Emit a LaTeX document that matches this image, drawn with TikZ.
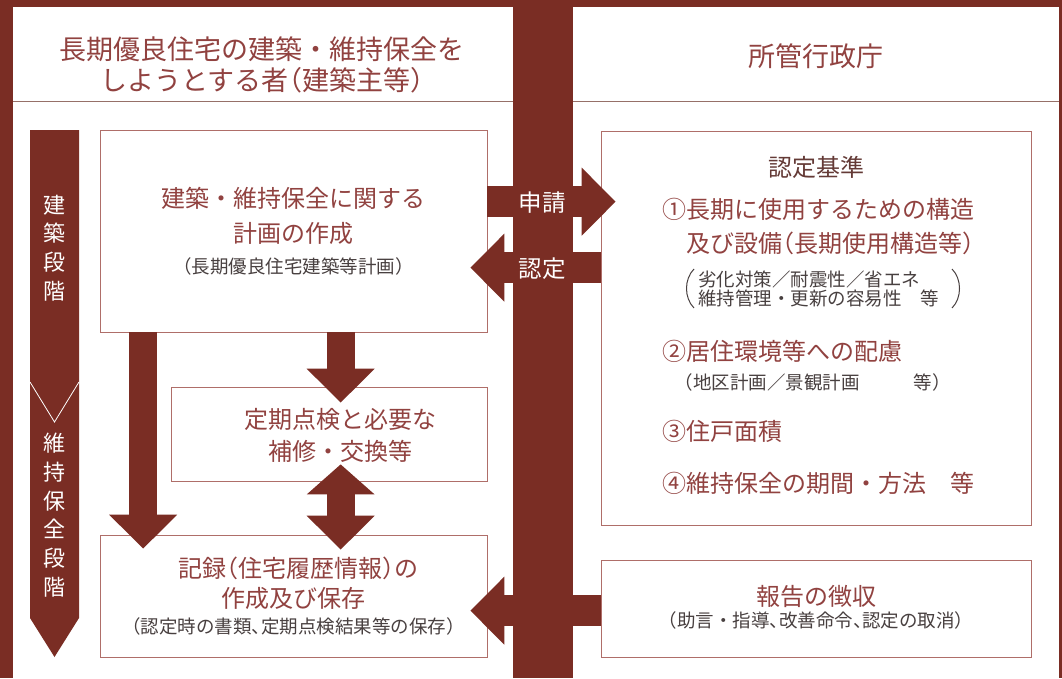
\documentclass[tikz,border=0pt]{standalone}
\usepackage{fontspec}
\setmainfont{Noto Sans CJK JP}
\usetikzlibrary{arrows.meta,calc}
\definecolor{brn}{RGB}{122,45,36}
\definecolor{ttl}{RGB}{145,66,64}
\definecolor{subc}{RGB}{72,64,64}
\definecolor{hdc}{RGB}{100,58,54}
\definecolor{bdr}{RGB}{175,110,105}
\definecolor{sepc}{RGB}{150,112,104}
\newcommand{\LP}{\kern-.5em（}
\newcommand{\RP}{）\kern-.5em}
\newcommand{\CM}{、\kern-.5em}
\tikzset{
  box/.style={draw=bdr, line width=0.7pt, fill=white, inner sep=0pt},
  ttxt/.style={inner sep=0pt, text=ttl, font=\fontsize{24}{28}\selectfont},
  htxt/.style={inner sep=0pt, text=ttl, font=\fontsize{27}{32}\selectfont},
  stxt/.style={inner sep=0pt, text=subc, font=\fontsize{18.5}{22}\selectfont},
  wtxt/.style={inner sep=0pt, text=white, font=\fontsize{23.5}{23.5}\selectfont},
  stagetxt/.style={inner sep=0pt, text=white, align=center, font=\fontsize{22}{28.7}\selectfont},
  harrow/.style={draw=brn, line width=31pt, -{Triangle[length=34pt,width=66pt]}},
  varrow/.style={draw=brn, line width=28pt, -{Triangle[length=34pt,width=66pt]}},
  sepline/.style={draw=sepc, line width=0.8pt},
  bigparen/.style={draw=subc, line width=1pt}
}
\begin{document}
\begin{tikzpicture}[x=1pt,y=-1pt]
\useasboundingbox (0,0) rectangle (1062,678);
% background and panels
\fill[brn] (0,0) rectangle (1062,678);
\fill[white] (13,7) rectangle (513,678);
\fill[white] (573,7) rectangle (1059,678);
\draw[sepline] (13,101) -- (513,101);
\draw[sepline] (573,101) -- (1059,101);

% headers
\node[htxt] (hl1) at (262,49) {長期優良住宅の建築・維持保全を};
\node[htxt] (hl2) at (262,80) {しようとする者\LP 建築主等\RP};
\node[htxt] (hr) at (816,56) {所管行政庁};

% stage arrow
\fill[brn] (30,130) -- (79,130) -- (79,618) -- (54.5,657) -- (30,618) -- cycle;
\draw[white, line width=0.8pt] (30,382) -- (54.5,422) -- (79,382);
\node[stagetxt] (st1) at (54.5,248) {建\\築\\段\\階};
\node[stagetxt] (st2) at (54.5,515) {維\\持\\保\\全\\段\\階};

% boxes
\node[box, minimum width=387pt, minimum height=202pt] (plan) at (293.5,231) {};
\node[box, minimum width=316pt, minimum height=94pt] (insp) at (329,434) {};
\node[box, minimum width=387pt, minimum height=122pt] (rec) at (293.5,596) {};
\node[box, minimum width=430pt, minimum height=394pt] (crit) at (816,328) {};
\node[box, minimum width=430pt, minimum height=97pt] (rep) at (816,608.5) {};

% arrows
\draw[harrow] ($(plan.north east)+(0,72)$) -- ($(crit.north west)+(15,71)$);
\draw[harrow] ($(crit.north west)+(0,137)$) -- ($(plan.north east)+(-17,138)$);
\draw[harrow] ($(rep.north west)+(0,51)$) -- ($(rec.north east)+(-17,76)$);
\draw[varrow] ($(plan.south west)+(43.5,0)$) -- ($(rec.north west)+(43.5,14)$);
\draw[varrow] ($(plan.south west)+(241,0)$) -- ($(insp.north west)+(170,16)$);
\draw[draw=brn, line width=28pt, {Triangle[length=30pt,width=66pt]}-{Triangle[length=34pt,width=66pt]}]
  ($(insp.south west)+(170,-17)$) -- ($(rec.north west)+(241,15)$);

\node[wtxt] (shinsei) at (542,203) {申請};
\node[wtxt] (nintei) at (542,269) {認定};

% box texts
\node[ttxt] (p1) at (293.5,198) {建築・維持保全に関する};
\node[ttxt] (p2) at (293.5,233) {計画の作成};
\node[stxt] (p3) at (293.5,266) {\LP 長期優良住宅建築等計画\RP};

\node[ttxt] (i1) at (340,419) {定期点検と必要な};
\node[ttxt] (i2) at (340,451) {補修・交換等};

\node[ttxt] (r1) at (298,568) {記録\LP 住宅履歴情報\RP の};
\node[ttxt] (r2) at (293.5,598) {作成及び保存};
\node[stxt] (r3) at (293.5,626) {\LP 認定時の書類\CM 定期点検結果等の保存\RP};

\node[inner sep=0pt, text=hdc, font=\fontsize{24}{28}\selectfont] (c0) at (816,167) {認定基準};
\node[ttxt, anchor=west] (c1) at (662,209) {①長期に使用するための構造};
\node[ttxt, anchor=west] (c2) at (686,243) {及び設備\LP 長期使用構造等\RP};
\node[stxt, anchor=west] (c3) at (698,279) {劣化対策／耐震性／省エネ};
\node[stxt, anchor=west] (c4) at (698,298) {維持管理・更新の容易性　等};
\draw[bigparen] (694,269) .. controls (684,279) and (684,298) .. (694,308);
\draw[bigparen] (952,269) .. controls (962,279) and (962,298) .. (952,308);
\node[ttxt, anchor=west] (c5) at (662,351) {②居住環境等への配慮};
\node[stxt, anchor=west] (c6) at (684,382) {\LP 地区計画／景観計画\hspace{2.9em}等\RP};
\node[ttxt, anchor=west] (c7) at (662,431) {③住戸面積};
\node[ttxt, anchor=west] (c8) at (662,483) {④維持保全の期間・方法　等};

\node[ttxt] (q1) at (816,596) {報告の徴収};
\node[stxt] (q2) at (816,620) {\LP 助言・指導\CM 改善命令\CM 認定の取消\RP};
\end{tikzpicture}
\end{document}
